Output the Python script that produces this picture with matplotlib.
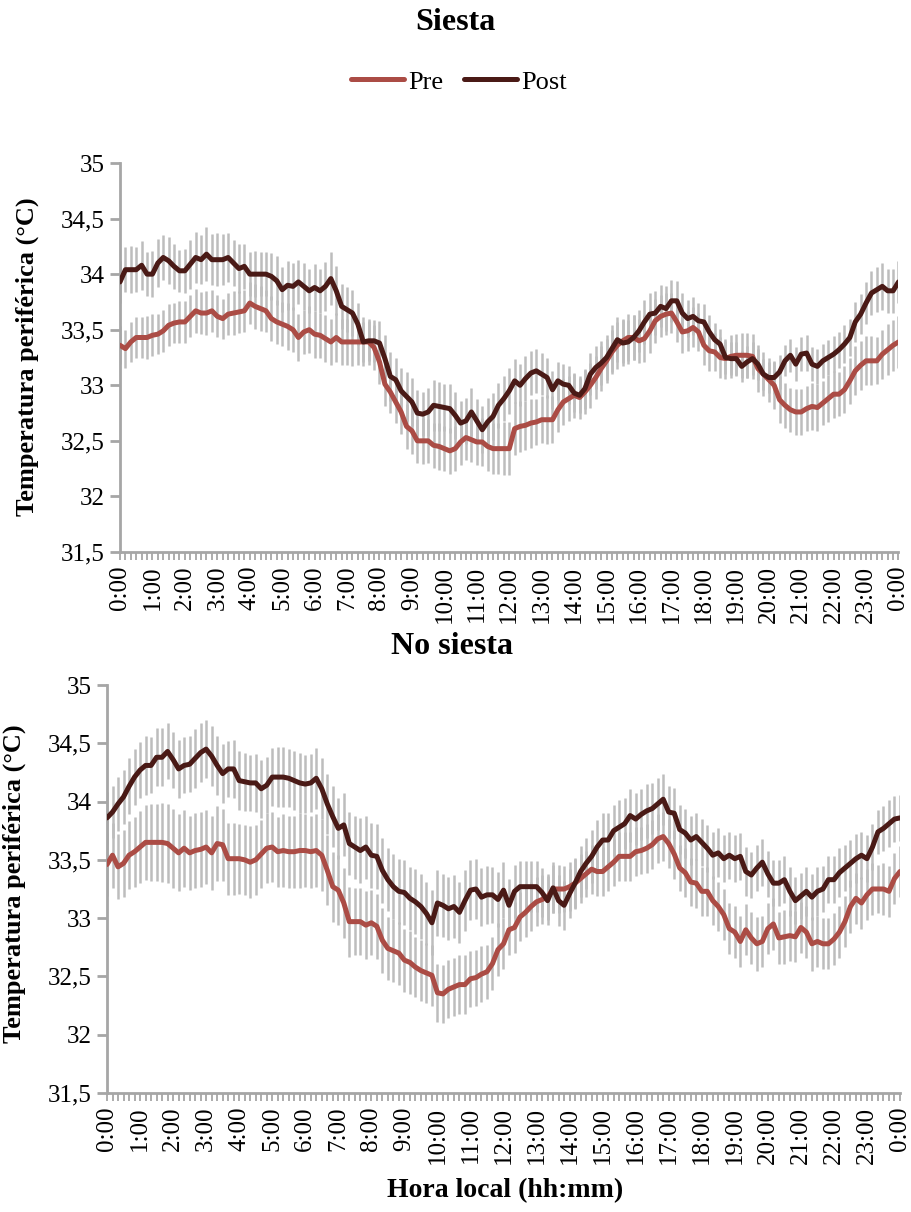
import matplotlib
matplotlib.use('Agg')
import matplotlib.pyplot as plt
import numpy as np

plt.rcParams['font.family'] = ['Liberation Serif', 'DejaVu Serif']

# ----- Data: 10-min samples from 0:00 to 24:00 (145 points) -----
hour_labels = [f'{h}:00' for h in range(24)] + ['0:00']

siesta_pre = [
    33.36, 33.33, 33.39, 33.43, 33.43, 33.43, 33.45, 33.46, 33.49, 33.54,
    33.56, 33.57, 33.57, 33.62, 33.67, 33.65, 33.65, 33.67, 33.62, 33.60,
    33.64, 33.65, 33.66, 33.67, 33.74, 33.71, 33.69, 33.67, 33.60, 33.57,
    33.55, 33.53, 33.50, 33.43, 33.48, 33.50, 33.46, 33.45, 33.42, 33.39,
    33.43, 33.39, 33.39, 33.39, 33.39, 33.39, 33.39, 33.34, 33.21, 33.01,
    32.94, 32.85, 32.76, 32.63, 32.59, 32.50, 32.50, 32.50, 32.46, 32.45,
    32.43, 32.41, 32.43, 32.49, 32.53, 32.51, 32.49, 32.49, 32.45, 32.43,
    32.43, 32.43, 32.43, 32.61, 32.63, 32.64, 32.66, 32.67, 32.69, 32.69,
    32.69, 32.78, 32.85, 32.88, 32.91, 32.89, 32.94, 33.00, 33.07, 33.15,
    33.22, 33.30, 33.36, 33.40, 33.43, 33.43, 33.40, 33.42, 33.49, 33.58,
    33.62, 33.64, 33.65, 33.57, 33.48, 33.49, 33.52, 33.48, 33.36, 33.31,
    33.30, 33.25, 33.24, 33.26, 33.27, 33.27, 33.27, 33.26, 33.15, 33.10,
    33.05, 33.00, 32.87, 32.82, 32.78, 32.76, 32.76, 32.79, 32.81, 32.80,
    32.84, 32.88, 32.92, 32.92, 32.96, 33.04, 33.13, 33.18, 33.22, 33.22,
    33.22, 33.28, 33.32, 33.36, 33.39]

siesta_post = [
    33.93, 34.04, 34.04, 34.04, 34.08, 34.00, 34.00, 34.10, 34.15, 34.12,
    34.07, 34.03, 34.03, 34.09, 34.15, 34.13, 34.18, 34.13, 34.13, 34.13,
    34.15, 34.10, 34.05, 34.07, 34.00, 34.00, 34.00, 34.00, 33.98, 33.94,
    33.86, 33.90, 33.89, 33.93, 33.89, 33.85, 33.88, 33.85, 33.89, 33.96,
    33.85, 33.71, 33.68, 33.65, 33.55, 33.39, 33.40, 33.40, 33.38, 33.24,
    33.08, 33.05, 32.95, 32.90, 32.85, 32.75, 32.74, 32.76, 32.82, 32.81,
    32.80, 32.79, 32.73, 32.66, 32.68, 32.76, 32.68, 32.60, 32.67, 32.72,
    32.82, 32.88, 32.95, 33.04, 33.00, 33.06, 33.11, 33.13, 33.10, 33.07,
    32.96, 33.04, 33.01, 33.00, 32.93, 32.91, 32.97, 33.10, 33.16, 33.20,
    33.25, 33.33, 33.41, 33.38, 33.39, 33.43, 33.49, 33.57, 33.64, 33.65,
    33.71, 33.69, 33.76, 33.76, 33.65, 33.60, 33.62, 33.58, 33.57, 33.48,
    33.41, 33.37, 33.25, 33.24, 33.24, 33.17, 33.21, 33.24, 33.19, 33.10,
    33.07, 33.07, 33.12, 33.22, 33.27, 33.19, 33.28, 33.29, 33.19, 33.17,
    33.22, 33.25, 33.28, 33.32, 33.37, 33.43, 33.57, 33.64, 33.74, 33.83,
    33.86, 33.89, 33.85, 33.85, 33.93]

siesta_pre_err = [
    0.17, 0.17, 0.18, 0.18, 0.18, 0.19, 0.19, 0.18, 0.19, 0.19, 0.18, 0.19,
    0.19, 0.19, 0.20, 0.19, 0.20, 0.19, 0.19, 0.18, 0.19, 0.20, 0.19, 0.19,
    0.19, 0.20, 0.20, 0.19, 0.20, 0.20, 0.20, 0.21, 0.20, 0.21, 0.20, 0.21,
    0.21, 0.20, 0.21, 0.21, 0.22, 0.21, 0.21, 0.22, 0.21, 0.22, 0.21, 0.20,
    0.20, 0.20, 0.19, 0.19, 0.20, 0.20, 0.21, 0.20, 0.21, 0.20, 0.20, 0.21,
    0.20, 0.21, 0.20, 0.21, 0.20, 0.20, 0.21, 0.22, 0.22, 0.23, 0.23, 0.24,
    0.24, 0.24, 0.23, 0.22, 0.22, 0.21, 0.21, 0.22, 0.21, 0.20, 0.21, 0.20,
    0.20, 0.19, 0.20, 0.20, 0.19, 0.20, 0.20, 0.20, 0.21, 0.20, 0.21, 0.20,
    0.20, 0.21, 0.20, 0.20, 0.19, 0.19, 0.18, 0.18, 0.19, 0.18, 0.18, 0.17,
    0.18, 0.18, 0.17, 0.18, 0.18, 0.19, 0.19, 0.20, 0.20, 0.20, 0.21, 0.20,
    0.20, 0.21, 0.21, 0.20, 0.20, 0.21, 0.21, 0.20, 0.21, 0.21, 0.20, 0.21,
    0.21, 0.20, 0.21, 0.21, 0.22, 0.22, 0.22, 0.22, 0.21, 0.22, 0.23, 0.23,
    0.23]

siesta_post_err = [
    0.19, 0.20, 0.21, 0.20, 0.22, 0.20, 0.21, 0.22, 0.20, 0.21, 0.20, 0.19,
    0.20, 0.22, 0.23, 0.22, 0.24, 0.23, 0.24, 0.23, 0.22, 0.21, 0.22, 0.20,
    0.20, 0.21, 0.20, 0.20, 0.21, 0.22, 0.20, 0.22, 0.21, 0.20, 0.21, 0.20,
    0.21, 0.20, 0.22, 0.24, 0.22, 0.20, 0.20, 0.21, 0.19, 0.18, 0.18, 0.19,
    0.20, 0.21, 0.22, 0.20, 0.21, 0.22, 0.22, 0.21, 0.20, 0.22, 0.23, 0.22,
    0.21, 0.22, 0.21, 0.20, 0.21, 0.22, 0.20, 0.21, 0.22, 0.21, 0.20, 0.20,
    0.21, 0.20, 0.19, 0.20, 0.20, 0.20, 0.19, 0.18, 0.17, 0.17, 0.18, 0.17,
    0.17, 0.16, 0.18, 0.19, 0.19, 0.20, 0.20, 0.21, 0.20, 0.21, 0.20, 0.20,
    0.19, 0.20, 0.19, 0.20, 0.19, 0.20, 0.19, 0.18, 0.18, 0.17, 0.17, 0.16,
    0.16, 0.15, 0.15, 0.14, 0.15, 0.15, 0.15, 0.14, 0.14, 0.15, 0.14, 0.14,
    0.14, 0.15, 0.15, 0.14, 0.15, 0.15, 0.15, 0.16, 0.15, 0.16, 0.15, 0.16,
    0.16, 0.16, 0.17, 0.17, 0.18, 0.18, 0.19, 0.20, 0.20, 0.21, 0.20, 0.20,
    0.19]

nosiesta_pre = [
    33.46, 33.54, 33.44, 33.47, 33.54, 33.57, 33.61, 33.65, 33.65, 33.65,
    33.65, 33.64, 33.60, 33.56, 33.60, 33.56, 33.58, 33.59, 33.61, 33.56,
    33.64, 33.63, 33.51, 33.51, 33.51, 33.50, 33.48, 33.50, 33.55, 33.60,
    33.61, 33.57, 33.58, 33.57, 33.57, 33.58, 33.58, 33.57, 33.58, 33.54,
    33.41, 33.27, 33.24, 33.13, 32.97, 32.97, 32.97, 32.94, 32.96, 32.93,
    32.81, 32.74, 32.72, 32.70, 32.64, 32.62, 32.58, 32.55, 32.53, 32.51,
    32.36, 32.35, 32.39, 32.41, 32.43, 32.43, 32.48, 32.49, 32.52, 32.54,
    32.61, 32.73, 32.78, 32.90, 32.92, 33.01, 33.05, 33.10, 33.14, 33.16,
    33.18, 33.25, 33.25, 33.25, 33.27, 33.30, 33.34, 33.38, 33.42, 33.40,
    33.40, 33.44, 33.48, 33.53, 33.53, 33.53, 33.57, 33.58, 33.60, 33.63,
    33.68, 33.70, 33.64, 33.55, 33.43, 33.39, 33.31, 33.30, 33.23, 33.23,
    33.15, 33.10, 33.03, 32.91, 32.88, 32.80, 32.90, 32.83, 32.78, 32.80,
    32.91, 32.95, 32.83, 32.84, 32.85, 32.84, 32.92, 32.88, 32.78, 32.80,
    32.78, 32.78, 32.82, 32.88, 32.97, 33.10, 33.17, 33.13, 33.20, 33.25,
    33.25, 33.25, 33.23, 33.34, 33.40]

nosiesta_post = [
    33.86, 33.91, 33.98, 34.04, 34.13, 34.21, 34.27, 34.31, 34.31, 34.38,
    34.38, 34.43, 34.36, 34.28, 34.31, 34.32, 34.37, 34.42, 34.45, 34.39,
    34.31, 34.24, 34.28, 34.28, 34.18, 34.17, 34.16, 34.16, 34.11, 34.14,
    34.21, 34.21, 34.21, 34.20, 34.18, 34.16, 34.15, 34.16, 34.20, 34.11,
    33.98, 33.87, 33.77, 33.80, 33.64, 33.61, 33.58, 33.61, 33.54, 33.53,
    33.41, 33.33, 33.27, 33.23, 33.22, 33.17, 33.14, 33.10, 33.04, 32.96,
    33.13, 33.11, 33.08, 33.10, 33.05, 33.15, 33.24, 33.25, 33.18, 33.20,
    33.20, 33.16, 33.24, 33.11, 33.23, 33.27, 33.27, 33.27, 33.27, 33.22,
    33.15, 33.26, 33.15, 33.11, 33.21, 33.30, 33.40, 33.47, 33.53, 33.61,
    33.67, 33.67, 33.75, 33.78, 33.81, 33.88, 33.85, 33.89, 33.92, 33.94,
    33.98, 34.02, 33.91, 33.90, 33.76, 33.73, 33.67, 33.70, 33.65, 33.60,
    33.54, 33.56, 33.51, 33.54, 33.51, 33.53, 33.40, 33.37, 33.43, 33.48,
    33.38, 33.30, 33.30, 33.33, 33.23, 33.15, 33.19, 33.23, 33.18, 33.23,
    33.25, 33.33, 33.33, 33.39, 33.43, 33.47, 33.51, 33.54, 33.51, 33.61,
    33.74, 33.77, 33.81, 33.85, 33.86]

nosiesta_pre_err = [
    0.27, 0.28, 0.28, 0.29, 0.29, 0.30, 0.31, 0.32, 0.33, 0.33, 0.34, 0.34,
    0.34, 0.33, 0.33, 0.32, 0.32, 0.32, 0.32, 0.32, 0.32, 0.31, 0.31, 0.31,
    0.30, 0.30, 0.31, 0.30, 0.29, 0.30, 0.30, 0.30, 0.31, 0.31, 0.31, 0.32,
    0.31, 0.31, 0.31, 0.31, 0.30, 0.30, 0.30, 0.30, 0.30, 0.29, 0.29, 0.29,
    0.28, 0.28, 0.28, 0.27, 0.27, 0.27, 0.27, 0.27, 0.26, 0.26, 0.26, 0.26,
    0.25, 0.25, 0.25, 0.25, 0.25, 0.25, 0.24, 0.24, 0.24, 0.23, 0.23, 0.23,
    0.22, 0.22, 0.22, 0.21, 0.21, 0.21, 0.21, 0.21, 0.20, 0.21, 0.21, 0.20,
    0.21, 0.21, 0.21, 0.20, 0.21, 0.21, 0.21, 0.21, 0.20, 0.21, 0.21, 0.21,
    0.21, 0.20, 0.21, 0.21, 0.21, 0.21, 0.21, 0.21, 0.20, 0.21, 0.21, 0.21,
    0.21, 0.21, 0.21, 0.21, 0.22, 0.22, 0.22, 0.22, 0.22, 0.22, 0.23, 0.22,
    0.22, 0.22, 0.22, 0.23, 0.22, 0.22, 0.22, 0.22, 0.23, 0.22, 0.22, 0.22,
    0.22, 0.22, 0.22, 0.23, 0.22, 0.22, 0.22, 0.22, 0.21, 0.22, 0.22, 0.22,
    0.22]

nosiesta_post_err = [
    0.22, 0.22, 0.23, 0.23, 0.24, 0.24, 0.24, 0.25, 0.24, 0.25, 0.25, 0.24,
    0.24, 0.25, 0.24, 0.24, 0.25, 0.25, 0.25, 0.26, 0.25, 0.25, 0.24, 0.25,
    0.25, 0.25, 0.24, 0.25, 0.25, 0.24, 0.25, 0.26, 0.26, 0.25, 0.25, 0.26,
    0.25, 0.25, 0.26, 0.26, 0.26, 0.26, 0.26, 0.27, 0.27, 0.27, 0.28, 0.27,
    0.28, 0.28, 0.28, 0.27, 0.28, 0.28, 0.28, 0.27, 0.28, 0.28, 0.27, 0.28,
    0.28, 0.27, 0.27, 0.27, 0.26, 0.26, 0.26, 0.26, 0.25, 0.25, 0.24, 0.24,
    0.24, 0.23, 0.23, 0.22, 0.22, 0.22, 0.22, 0.21, 0.21, 0.22, 0.22, 0.21,
    0.21, 0.22, 0.22, 0.22, 0.23, 0.23, 0.23, 0.23, 0.22, 0.23, 0.22, 0.23,
    0.22, 0.22, 0.23, 0.22, 0.22, 0.22, 0.22, 0.22, 0.21, 0.21, 0.21, 0.20,
    0.20, 0.20, 0.20, 0.21, 0.20, 0.20, 0.20, 0.20, 0.21, 0.20, 0.20, 0.20,
    0.20, 0.20, 0.20, 0.20, 0.21, 0.20, 0.20, 0.21, 0.20, 0.21, 0.20, 0.20,
    0.20, 0.21, 0.20, 0.20, 0.21, 0.20, 0.20, 0.20, 0.19, 0.19, 0.20, 0.20,
    0.20]

pre_color = '#ab4c45'
post_color = '#4a1a16'
err_color = '#bdbdbd'
axis_color = '#a6a6a6'

x = np.arange(len(siesta_pre))

# ----- Plotting -----
fig = plt.figure(figsize=(9.12, 12.12), dpi=100)
ax1 = fig.add_axes([120 / 912, 1 - 552 / 1212, 778.5 / 912, 389 / 1212])
ax2 = fig.add_axes([107 / 912, 1 - 1093 / 1212, 793 / 912, 408 / 1212])


def draw_panel(ax, pre, pre_err, post, post_err):
    ax.errorbar(x, pre, yerr=pre_err, fmt='none', ecolor=err_color,
                elinewidth=1.8, capsize=0, zorder=1)
    ax.errorbar(x, post, yerr=post_err, fmt='none', ecolor=err_color,
                elinewidth=1.8, capsize=0, zorder=1)
    ln_pre, = ax.plot(x, pre, color=pre_color, lw=3.6, label='Pre',
                      solid_joinstyle='round', solid_capstyle='round',
                      zorder=3)
    ln_post, = ax.plot(x, post, color=post_color, lw=3.6, label='Post',
                       solid_joinstyle='round', solid_capstyle='round',
                       zorder=4)

    ax.set_xlim(0, len(x) - 1)
    ax.set_ylim(31.5, 35)
    yt = [31.5, 32, 32.5, 33, 33.5, 34, 34.5, 35]
    ax.set_yticks(yt)
    ax.set_yticklabels([f'{v:g}'.replace('.', ',') for v in yt], fontsize=18)
    ax.set_xticks(x[::6])
    ax.set_xticklabels(hour_labels, rotation=90, fontsize=18)
    ax.set_xticks(x, minor=True)

    for s in ['top', 'right']:
        ax.spines[s].set_visible(False)
    for s in ['left', 'bottom']:
        ax.spines[s].set_color(axis_color)
        ax.spines[s].set_linewidth(2)
    ax.tick_params(axis='y', which='major', direction='out', length=7,
                   width=2, color=axis_color, pad=4)
    ax.tick_params(axis='x', which='both', direction='out', length=6,
                   width=1.3, color=axis_color, pad=4)
    return ln_pre, ln_post


h_pre, h_post = draw_panel(ax1, siesta_pre, siesta_pre_err,
                           siesta_post, siesta_post_err)
draw_panel(ax2, nosiesta_pre, nosiesta_pre_err,
           nosiesta_post, nosiesta_post_err)

fig.text(455 / 912, 1 - 22 / 1212, 'Siesta', ha='center', va='center',
         fontsize=23, fontweight='bold')
fig.text(452 / 912, 1 - 647 / 1212, 'No siesta', ha='center', va='center',
         fontsize=23, fontweight='bold')

fig.legend([h_pre, h_post], ['Pre', 'Post'], loc='center',
           bbox_to_anchor=(459 / 912, 1 - 82 / 1212), ncol=2, frameon=False,
           fontsize=19, handlelength=2.0, handletextpad=0.15,
           columnspacing=0.8)

fig.text(27 / 912, 1 - 357 / 1212, 'Temperatura periférica (°C)',
         rotation=90, ha='center', va='center', fontsize=19,
         fontweight='bold')
fig.text(14 / 912, 1 - 884 / 1212, 'Temperatura periférica (°C)',
         rotation=90, ha='center', va='center', fontsize=19,
         fontweight='bold')
fig.text(505 / 912, 1 - 1191 / 1212, 'Hora local (hh:mm)', ha='center',
         va='center', fontsize=20, fontweight='bold')

fig.savefig('out.png', dpi=100)
